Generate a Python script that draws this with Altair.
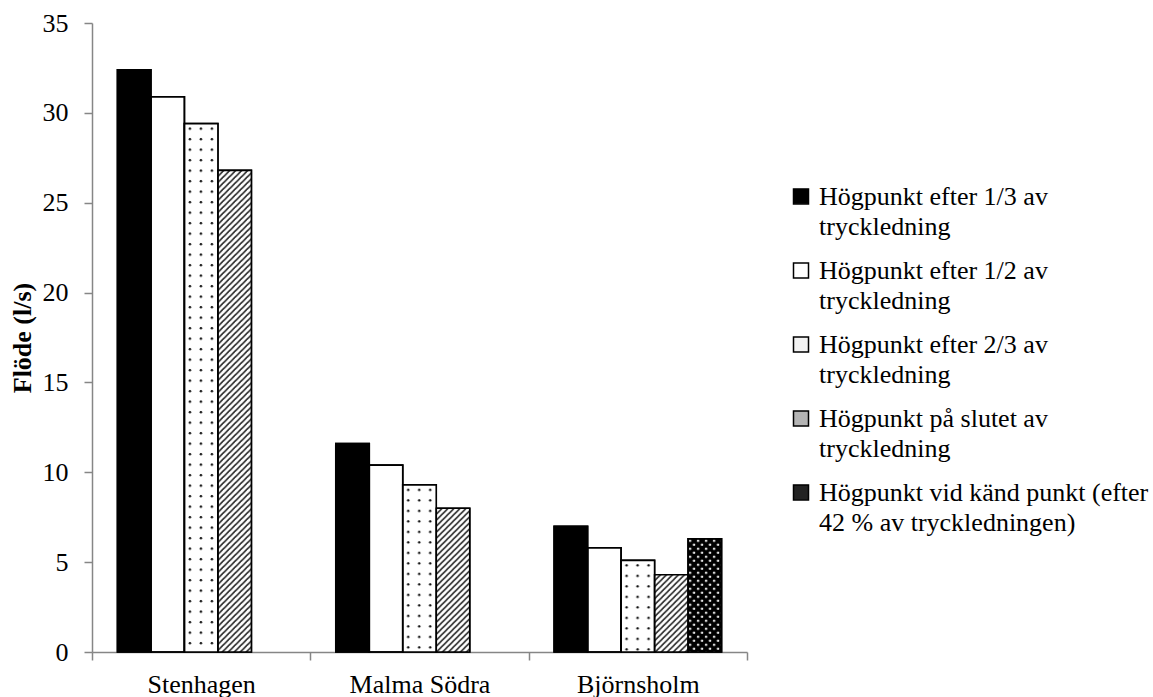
import base64
import altair as alt
import pandas as pd

categories = ["Stenhagen", "Malma Södra", "Björnsholm"]
series = [
    "Högpunkt efter 1/3 av tryckledning",
    "Högpunkt efter 1/2 av tryckledning",
    "Högpunkt efter 2/3 av tryckledning",
    "Högpunkt på slutet av tryckledning",
    "Högpunkt vid känd punkt (efter 42 % av tryckledningen)",
]
label_lines = [
    ["Högpunkt efter 1/3 av", "tryckledning"],
    ["Högpunkt efter 1/2 av", "tryckledning"],
    ["Högpunkt efter 2/3 av", "tryckledning"],
    ["Högpunkt på slutet av", "tryckledning"],
    ["Högpunkt vid känd punkt (efter", "42 % av tryckledningen)"],
]
vals_1_3 = [32.4, 11.6, 7.0]
vals_1_2 = [30.9, 10.4, 5.8]
vals_2_3 = [29.4, 9.3, 5.1]
vals_end = [26.8, 8.0, 4.3]
vals_known = [None, None, 6.3]
y_ticks = [0, 5, 10, 15, 20, 25, 30, 35]

# legend / base fill colours (patterned series are overdrawn with patterns)
fills = ["#000000", "#ffffff", "#f2f2f2", "#b4b4b4", "#222222"]


def svg_uri(body):
    svg = ("<svg xmlns='http://www.w3.org/2000/svg' width='100%' height='100%'>"
           "<defs>" + body + "</defs>"
           "<rect x='0' y='0' width='100%' height='100%' fill='url(#p)'/></svg>")
    return "data:image/svg+xml;base64," + base64.b64encode(svg.encode()).decode()


pat_dots = svg_uri(
    "<pattern id='p' width='11' height='10.5' patternUnits='userSpaceOnUse'>"
    "<rect width='11' height='10.5' fill='white'/>"
    "<circle cx='5.5' cy='5' r='1.25' fill='#111'/></pattern>")
pat_hatch = svg_uri(
    "<pattern id='p' width='6' height='6' patternUnits='userSpaceOnUse'>"
    "<rect width='6' height='6' fill='white'/>"
    "<path d='M-1,7 L7,-1 M-4,4 L4,-4 M2,10 L10,2' stroke='#222' stroke-width='1.6'/></pattern>")
pat_dark = svg_uri(
    "<pattern id='p' width='8' height='8' patternUnits='userSpaceOnUse'>"
    "<rect width='8' height='8' fill='black'/>"
    "<circle cx='2' cy='2' r='1.2' fill='white'/>"
    "<circle cx='6' cy='6' r='1.2' fill='white'/></pattern>")
patterns = {series[2]: pat_dots, series[3]: pat_hatch, series[4]: pat_dark}

rows = []
for s, vals in zip(series, [vals_1_3, vals_1_2, vals_2_3, vals_end, vals_known]):
    for c, v in zip(categories, vals):
        if v is not None:
            rows.append({"category": c, "series": s, "value": v,
                         "img": patterns.get(s, "")})
df = pd.DataFrame(rows)

label_expr = " : ".join(
    f"datum.label == '{s}' ? {lines!r}".replace('"', "'")
    for s, lines in zip(series, label_lines)
) + " : datum.label"

FONT = "Liberation Serif"

x_enc = alt.X("category:N", sort=categories,
              scale=alt.Scale(domain=categories, paddingInner=0, paddingOuter=0),
              axis=alt.Axis(title=None, tickBand="extent", labelAngle=0,
                            labelFontSize=26, labelPadding=11, tickSize=8,
                            domainColor="#868686", tickColor="#868686",
                            domainWidth=1.5, tickWidth=1.5,
                            labelColor="black", labelFont=FONT))
xo_enc = alt.XOffset("series:N", sort=series,
                     scale=alt.Scale(domain=series, paddingInner=0, paddingOuter=0.76))
y_enc = alt.Y("value:Q",
              scale=alt.Scale(domain=[0, 35], nice=False),
              axis=alt.Axis(title="Flöde (l/s)", values=y_ticks, grid=False,
                            labelFontSize=26, labelPadding=16, tickSize=8,
                            domainColor="#868686", tickColor="#868686",
                            domainWidth=1.5, tickWidth=1.5,
                            labelColor="black", labelFont=FONT,
                            titleFont=FONT, titleFontSize=26, titleFontWeight="bold",
                            titleColor="black", titlePadding=7))

base = alt.Chart(df)

bars = base.mark_bar(stroke="black", strokeWidth=1.6).encode(
    x=x_enc, xOffset=xo_enc, y=y_enc, y2=alt.datum(0),
    fill=alt.Fill("series:N", sort=series,
                  scale=alt.Scale(domain=series, range=fills),
                  legend=alt.Legend(
                      title=None, orient="none", legendX=696, legendY=169,
                      symbolType="M-1,-2.15H1V-0.15H-1Z", symbolSize=225,
                      symbolStrokeColor="black", symbolStrokeWidth=1.5,
                      labelFont=FONT, labelFontSize=26, labelColor="black",
                      labelBaseline="alphabetic",
                      labelOffset=5, labelLimit=500, rowPadding=18,
                      labelExpr=label_expr)),
)

imgs = base.transform_filter("datum.img != ''").mark_image(aspect=False).encode(
    x=x_enc, xOffset=xo_enc, y=y_enc, y2=alt.datum(0), url="img:N",
)

outline = base.mark_bar(fillOpacity=0, stroke="black", strokeWidth=1.6).encode(
    x=x_enc, xOffset=xo_enc, y=y_enc, y2=alt.datum(0),
)

chart = alt.layer(bars, imgs, outline).properties(
    width=655, height=629,
    padding={"left": 92, "top": 23, "right": 406, "bottom": 45},
    autosize=alt.AutoSizeParams(type="none"),
).configure(
    background="white",
    style={"guide-label": {"lineHeight": 30}},
    view=alt.ViewConfig(strokeWidth=0, stroke="transparent"),
)

chart.save("out.html", embed_options={"renderer": "svg", "actions": False})
